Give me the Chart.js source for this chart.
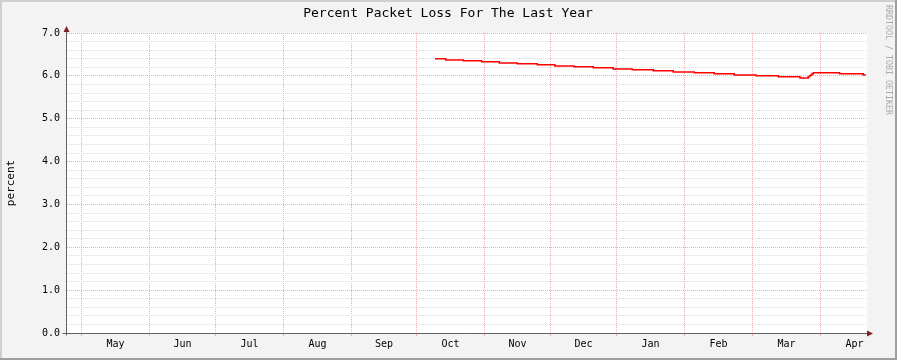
<!DOCTYPE html>
<html><head><meta charset="utf-8">
<script src="https://cdn.jsdelivr.net/npm/chart.js@4"></script>
<style>html,body{margin:0;padding:0;background:#f3f3f3}canvas{display:block}</style>
</head><body>
<canvas id="c" width="897" height="360"></canvas>
<script>
// ---- data ----
const chartTitle = 'Percent Packet Loss For The Last Year';
const yAxisTitle = 'percent';
const sideText = 'RRDTOOL / TOBI OETIKER';
const monthLabels = ['May','Jun','Jul','Aug','Sep','Oct','Nov','Dec','Jan','Feb','Mar','Apr'];
// day offsets (from start of the plotted year) of each month boundary
const monthStartDays = [6.6, 37.6, 67.8, 98.8, 129.8, 159.5, 190.5, 220.6, 250.7, 281.7, 312.8, 343.8];
// packet loss series: day offset where each level starts, and its value (%)
const lossDays = [167.9, 172.8, 180.8, 189.2, 197.2, 205.4, 214.6, 222.6, 231.3, 240.1, 249.2, 257.9, 267.5, 276.6,
                  286.2, 295.3, 304.4, 314.4, 324.5, 334.4, 338.2, 338.8, 339.3, 339.9, 340.5, 352.5, 363.3, 364.5];
const lossPct  = [6.40, 6.37, 6.35, 6.33, 6.30, 6.28, 6.26, 6.23, 6.21, 6.19, 6.16, 6.14, 6.12, 6.09,
                  6.07, 6.05, 6.02, 6.00, 5.98, 5.95, 5.98, 6.00, 6.02, 6.05, 6.07, 6.05, 6.02, 6.02];
const yMin = 0, yMax = 7, yMinorStep = 0.2;
const xMin = 0, xMax = 365;

const MONO = '"DejaVu Sans Mono", "Liberation Mono", monospace';
const majorGrid = 'rgb(243,170,170)';
const minorGrid = 'rgb(220,220,220)';
const isMajorY = v => Math.abs(v - Math.round(v)) < 1e-6;

const frame = {
  id: 'frame',
  beforeDraw(chart) {
    const {ctx, chartArea: a, width: w, height: h} = chart;
    ctx.save();
    ctx.fillStyle = '#f3f3f3'; ctx.fillRect(0, 0, w, h);
    ctx.fillStyle = '#cfcfcf'; ctx.fillRect(0, 0, w, 2); ctx.fillRect(0, 0, 2, h);
    ctx.fillStyle = '#9e9e9e'; ctx.fillRect(0, h - 2, w, 2); ctx.fillRect(w - 2, 0, 2, h);
    ctx.fillStyle = '#ffffff'; ctx.fillRect(a.left, a.top, a.right - a.left, a.bottom - a.top);
    ctx.restore();
  },
  afterDatasetsDraw(chart) {
    const {ctx, chartArea: a} = chart;
    ctx.save();
    ctx.strokeStyle = '#606060'; ctx.lineWidth = 1;
    const ax = a.left - 0.5, ay = a.bottom + 0.5;
    ctx.beginPath();
    ctx.moveTo(ax, ay + 2); ctx.lineTo(ax, a.top - 3);
    ctx.moveTo(ax - 4, ay); ctx.lineTo(a.right + 2, ay);
    ctx.stroke();
    ctx.fillStyle = '#7f1f1f';
    ctx.beginPath();
    ctx.moveTo(ax, a.top - 7); ctx.lineTo(ax - 3, a.top - 1); ctx.lineTo(ax + 3, a.top - 1); ctx.closePath();
    ctx.fill();
    ctx.beginPath();
    ctx.moveTo(a.right + 6, ay); ctx.lineTo(a.right, ay - 3); ctx.lineTo(a.right, ay + 3); ctx.closePath();
    ctx.fill();
    // title
    ctx.fillStyle = '#000';
    ctx.font = '13px ' + MONO;
    ctx.textAlign = 'center'; ctx.textBaseline = 'middle';
    ctx.fillText(chartTitle, 448, 14);
    // y axis title
    ctx.save();
    ctx.translate(11.5, 183);
    ctx.rotate(-Math.PI / 2);
    ctx.font = '11px ' + MONO;
    ctx.fillText(yAxisTitle, 0, 0);
    ctx.restore();
    // side text
    ctx.save();
    ctx.translate(888.5, 5);
    ctx.rotate(Math.PI / 2);
    ctx.font = '8.3px ' + MONO;
    ctx.fillStyle = '#aaaaaa';
    ctx.textAlign = 'left';
    ctx.fillText(sideText, 0, 0);
    ctx.restore();
    ctx.restore();
  }
};

const points = lossDays.map((d, i) => ({x: d, y: lossPct[i]}));

new Chart(document.getElementById('c'), {
  type: 'line',
  data: {
    datasets: [{
      data: points,
      borderColor: '#ff0000',
      borderWidth: 1.5,
      pointRadius: 0,
      stepped: 'before',
      fill: false,
      tension: 0
    }]
  },
  options: {
    responsive: false,
    animation: false,
    layout: {padding: {top: 33, right: 30, left: 0, bottom: 0}},
    plugins: {legend: {display: false}, tooltip: {enabled: false}, title: {display: false}},
    scales: {
      x: {
        type: 'linear',
        min: xMin, max: xMax,
        afterBuildTicks(scale) {
          const t = [];
          monthStartDays.forEach((d, i) => {
            t.push({value: d});
            const next = i + 1 < monthStartDays.length ? monthStartDays[i + 1] : d + 31;
            t.push({value: (d + next) / 2});
          });
          scale.ticks = t;
        },
        afterFit(scale) { scale.height = 27; },
        grid: {
          color: c => (c.index % 2 === 0 ? majorGrid : 'rgba(0,0,0,0)'),
          lineWidth: 1,
          drawTicks: true,
          tickLength: 3
        },
        border: {display: false, dash: [1, 1]},
        ticks: {
          autoSkip: false, maxRotation: 0, minRotation: 0,
          padding: 2,
          color: '#000',
          font: {family: MONO, size: 10},
          callback: (v, i) => (i % 2 === 1 ? monthLabels[(i - 1) / 2] : '')
        }
      },
      y: {
        type: 'linear',
        min: yMin, max: yMax,
        afterFit(scale) { scale.width = 67; },
        grid: {
          color: c => (c.tick && isMajorY(c.tick.value) ? majorGrid : minorGrid),
          lineWidth: 1,
          drawTicks: false
        },
        border: {display: false, dash: [1, 1]},
        ticks: {
          stepSize: yMinorStep,
          autoSkip: false,
          padding: 7,
          color: '#000',
          font: {family: MONO, size: 10},
          callback: v => (isMajorY(v) ? Number(v).toFixed(1) : '')
        }
      }
    }
  },
  plugins: [frame]
});
</script>
</body></html>
